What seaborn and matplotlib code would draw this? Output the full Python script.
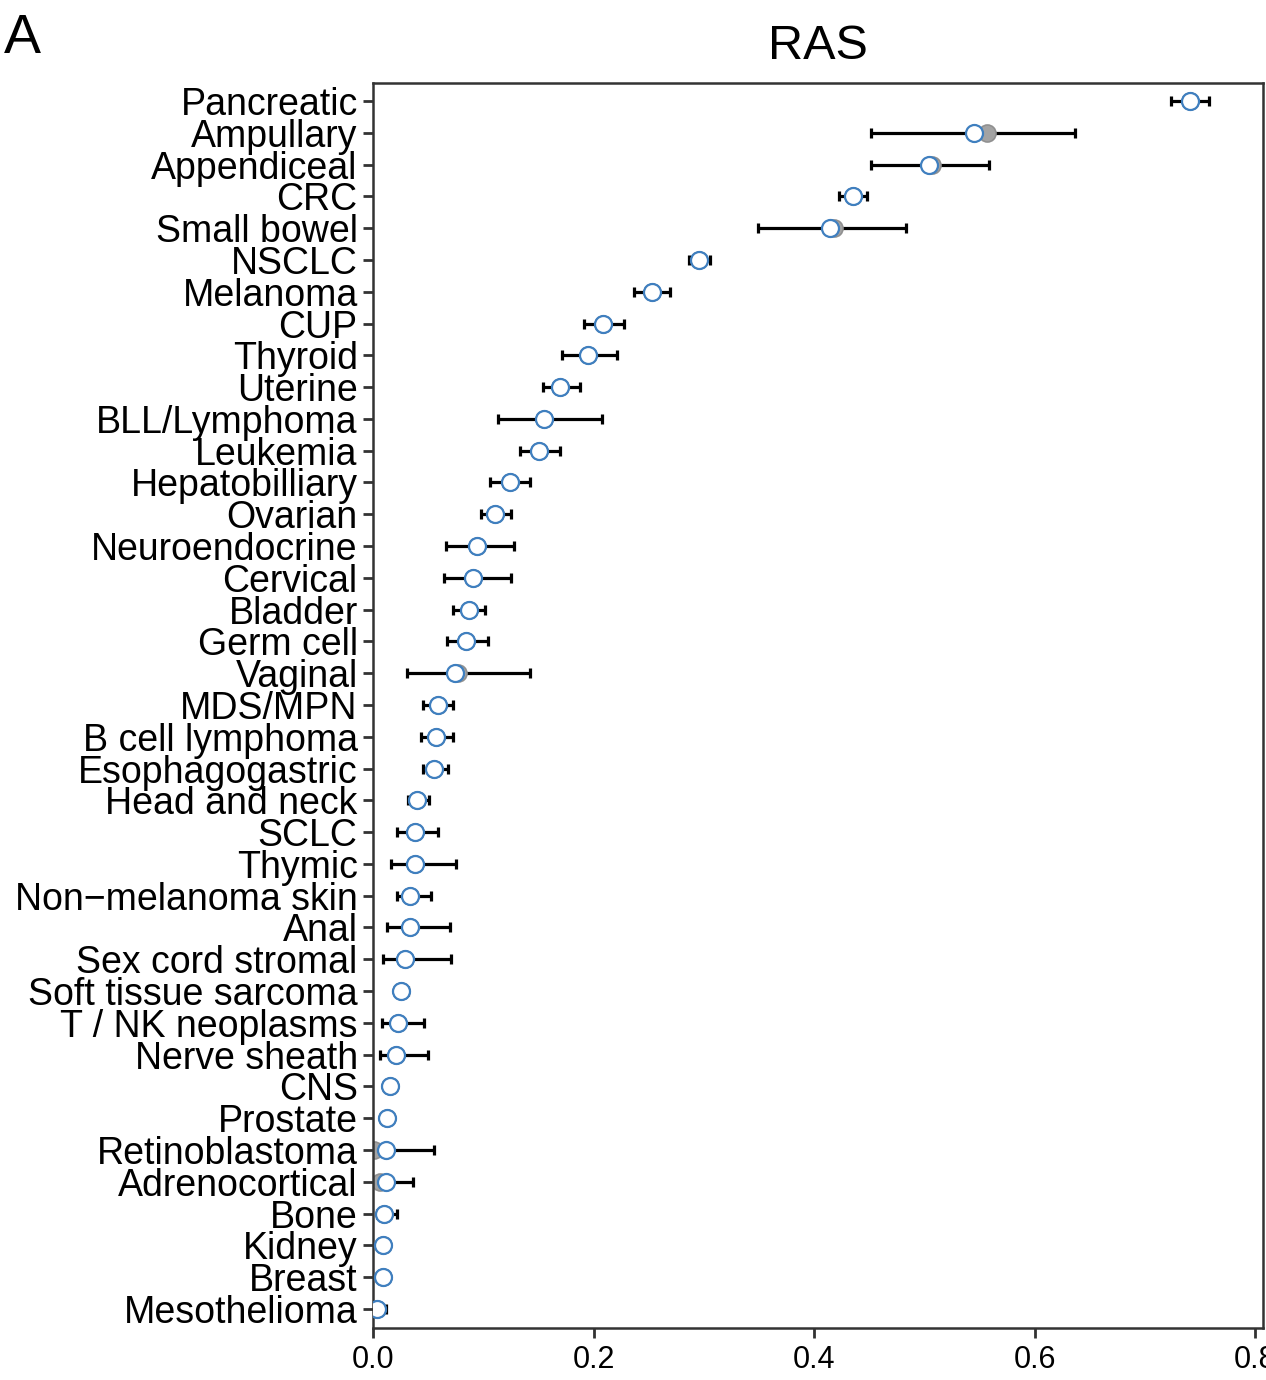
import pandas as pd
import matplotlib
matplotlib.use("Agg")
import matplotlib.pyplot as plt
import seaborn as sns

# ------------------------------------------------------------------
# Data
# ------------------------------------------------------------------
cancer_types = [
    "Pancreatic", "Ampullary", "Appendiceal", "CRC", "Small bowel", "NSCLC",
    "Melanoma", "CUP", "Thyroid", "Uterine", "BLL/Lymphoma", "Leukemia",
    "Hepatobilliary", "Ovarian", "Neuroendocrine", "Cervical", "Bladder",
    "Germ cell", "Vaginal", "MDS/MPN", "B cell lymphoma", "Esophagogastric",
    "Head and neck", "SCLC", "Thymic", "Non\u2212melanoma skin", "Anal",
    "Sex cord stromal", "Soft tissue sarcoma", "T / NK neoplasms",
    "Nerve sheath", "CNS", "Prostate", "Retinoblastoma", "Adrenocortical",
    "Bone", "Kidney", "Breast", "Mesothelioma",
]

freq = [
    0.741, 0.545, 0.504, 0.435, 0.414, 0.296,
    0.253, 0.209, 0.195, 0.170, 0.155, 0.151,
    0.124, 0.111, 0.094, 0.091, 0.087,
    0.084, 0.074, 0.059, 0.057, 0.055,
    0.040, 0.038, 0.038, 0.034, 0.034,
    0.029, 0.025, 0.023,
    0.021, 0.015, 0.013, 0.012, 0.012,
    0.010, 0.009, 0.009, 0.004,
]

freq_raw = [
    0.741, 0.557, 0.507, 0.435, 0.418, 0.296,
    0.253, 0.209, 0.195, 0.170, 0.155, 0.151,
    0.124, 0.111, 0.094, 0.091, 0.087,
    0.084, 0.077, 0.059, 0.057, 0.055,
    0.040, 0.038, 0.038, 0.034, 0.034,
    0.029, 0.025, 0.023,
    0.021, 0.015, 0.013, 0.001, 0.006,
    0.010, 0.009, 0.009, 0.004,
]

ci_low = [
    0.724, 0.452, 0.452, 0.423, 0.349, 0.287,
    0.237, 0.191, 0.171, 0.154, 0.113, 0.133,
    0.106, 0.098, 0.066, 0.064, 0.073,
    0.067, 0.031, 0.045, 0.044, 0.045,
    0.032, 0.022, 0.016, 0.022, 0.013,
    0.009, 0.021, 0.008,
    0.006, 0.012, 0.011, 0.000, 0.004,
    0.004, 0.008, 0.008, 0.000,
]

ci_high = [
    0.758, 0.637, 0.559, 0.448, 0.483, 0.306,
    0.269, 0.228, 0.221, 0.188, 0.208, 0.170,
    0.142, 0.125, 0.128, 0.125, 0.102,
    0.104, 0.142, 0.073, 0.073, 0.068,
    0.051, 0.059, 0.075, 0.053, 0.070,
    0.071, 0.032, 0.046,
    0.050, 0.017, 0.015, 0.055, 0.036,
    0.022, 0.010, 0.010, 0.012,
]


def plot_ras(df):
    sns.set_theme(style="ticks")
    plt.rcParams["font.family"] = ["Liberation Sans", "DejaVu Sans"]
    plt.rcParams["text.color"] = "black"

    fig = plt.figure(figsize=(12.66, 13.8), dpi=100)
    ax = fig.add_axes([0.2946, 0.0377, 0.703, 0.9022])

    xerr = [df["freq"] - df["low"], df["high"] - df["freq"]]
    ax.errorbar(df["freq"], df["type"], xerr=xerr, fmt="none",
                ecolor="black", elinewidth=2.3, capsize=3.5, capthick=2.3,
                zorder=1)

    sns.scatterplot(data=df, x="raw", y="type", ax=ax, s=150,
                    color="#a3a3a3", edgecolor="#909090", linewidth=1.2,
                    zorder=2, legend=False)
    sns.scatterplot(data=df, x="freq", y="type", ax=ax, s=150,
                    color="white", edgecolor="#3f7fbf", linewidth=1.6,
                    zorder=3, legend=False)

    ax.set_xlim(0, 0.807)
    ax.set_ylim(len(df) - 1 + 0.6, -0.57)
    ax.set_xticks([0.0, 0.2, 0.4, 0.6, 0.8])
    ax.set_xticklabels(["0.0", "0.2", "0.4", "0.6", "0.8"])
    ax.set_xlabel("")
    ax.set_ylabel("")

    ax.tick_params(axis="y", labelsize=27, length=7, width=2,
                   color="#333333", pad=4, labelcolor="black")
    ax.tick_params(axis="x", labelsize=22, length=7, width=2,
                   color="#333333", pad=5, labelcolor="black")
    for spine in ax.spines.values():
        spine.set_visible(True)
        spine.set_linewidth(1.8)
        spine.set_color("#333333")

    fig.text(0.646, 0.966, "RAS", fontsize=35, ha="center", va="center",
             color="black")
    fig.text(0.003, 0.972, "A", fontsize=40, va="center", ha="left",
             color="black")

    fig.savefig("out.png", dpi=100)


def main():
    df = pd.DataFrame({
        "type": cancer_types,
        "freq": freq,
        "raw": freq_raw,
        "low": ci_low,
        "high": ci_high,
    })
    plot_ras(df)


if __name__ == "__main__":
    main()
